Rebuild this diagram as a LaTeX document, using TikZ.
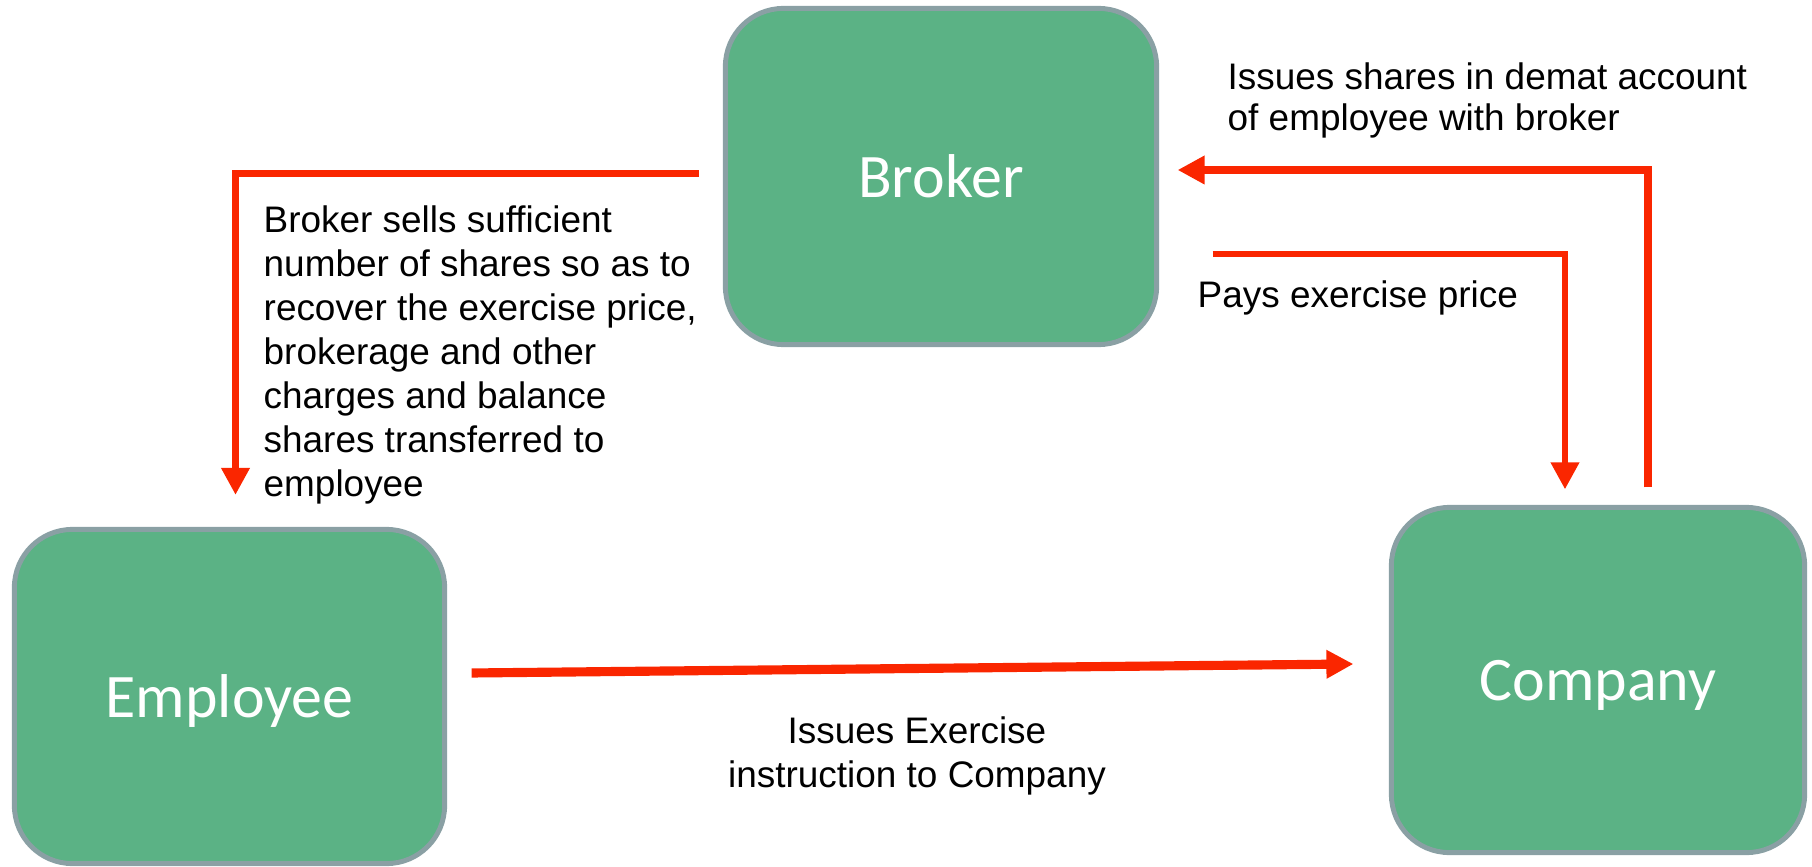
\documentclass[tikz,border=0pt]{standalone}
\usepackage{fontspec}
\setmainfont{Liberation Sans}
\newfontfamily\boxfont{Carlito}
\usetikzlibrary{arrows.meta}
\definecolor{boxgreen}{RGB}{91,178,133}
\definecolor{boxrim}{RGB}{138,160,164}
\definecolor{flowred}{RGB}{250,38,0}

\begin{document}
\begin{tikzpicture}[x=0.01cm,y=-0.01cm,
  party/.style={draw=boxrim,fill=boxgreen,line width=1.4pt,rounded corners=0.58cm,
    text=white,text depth=0pt,font=\boxfont\fontsize{17.6}{20}\selectfont},
  flow/.style={draw=flowred,line width=2.1pt,-{Triangle[length=0.27cm,width=0.27cm]}},
  note/.style={inner sep=0pt,align=left,font=\fontsize{10.5}{12.5}\selectfont}]
\useasboundingbox (0,0) rectangle (1812,867);
\node[party,minimum width=4.31cm,minimum height=3.36cm] (broker) at (941,176.5) {Broker};
\node[party,minimum width=4.30cm,minimum height=3.34cm] (employee) at (229.5,696.5) {Employee};
\node[party,minimum width=4.13cm,minimum height=3.45cm] (company) at (1598,680) {Company};

\draw[flow] ([xshift=-0.24cm,yshift=0.03cm]broker.west) -| ([xshift=0.06cm,yshift=0.32cm]employee.north);
\draw[flow,line width=1.9pt] ([xshift=0.535cm,yshift=-0.775cm]broker.east) -| ([xshift=-0.33cm,yshift=0.155cm]company.north);
\draw[flow] ([xshift=0.5cm,yshift=0.175cm]company.north) |- ([xshift=0.185cm,yshift=0.065cm]broker.east);
\draw[flow,line width=2.6pt] ([xshift=0.245cm,yshift=0.235cm]employee.east) -- ([xshift=-0.355cm,yshift=0.16cm]company.west);

\node[note,anchor=north west,font=\fontsize{10.5}{11.7}\selectfont] (demat) at (1227,62) {Issues shares in demat account\\of employee with broker};
\node[note,anchor=north west] (pays) at (1197,280) {Pays exercise price};
\node[note,anchor=north west] (sells) at (263,205) {Broker sells sufficient\\number of shares so as to\\recover the exercise price,\\brokerage and other\\charges and balance\\shares transferred to\\employee};
\node[note,anchor=north,align=center] (instr) at (917,716) {Issues Exercise\\instruction to Company};
\end{tikzpicture}
\end{document}
